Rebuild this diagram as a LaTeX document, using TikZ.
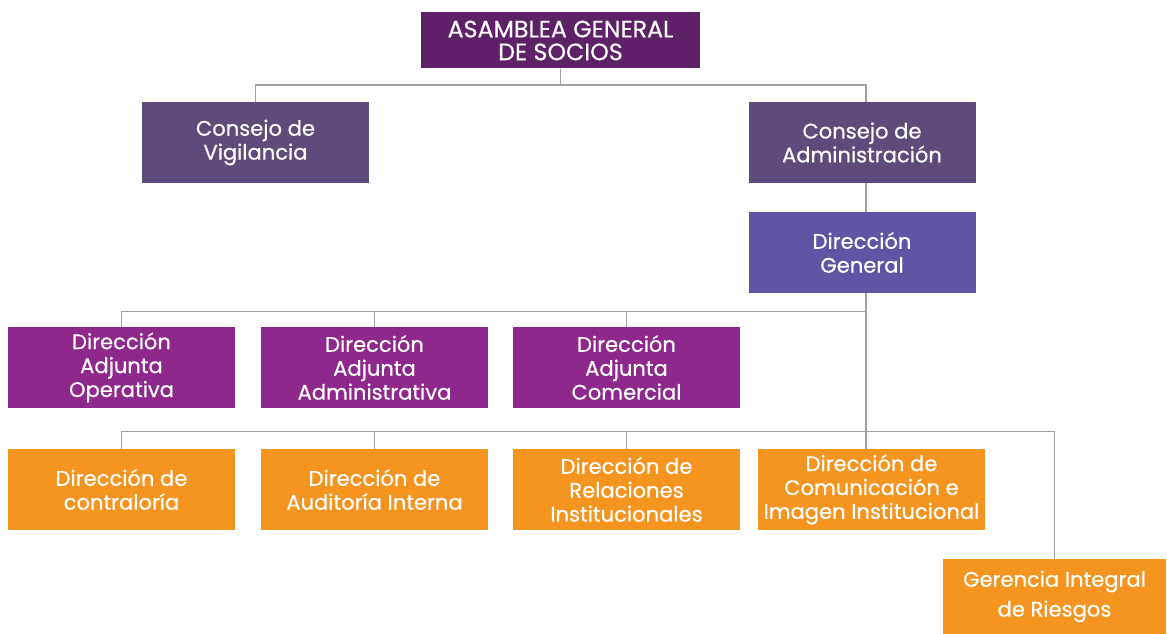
\documentclass[tikz,border=0pt]{standalone}
\usepackage{fontspec}
\setmainfont{Poppins}[FakeBold=0.5]
\definecolor{asamblea}{HTML}{5E2167}
\definecolor{consejo}{HTML}{5F4B7B}
\definecolor{general}{HTML}{5E56A4}
\definecolor{adjunta}{HTML}{8E288D}
\definecolor{naranja}{HTML}{F59520}
\definecolor{linea}{HTML}{A0A0A0}
\usetikzlibrary{calc, positioning}

\tikzset{
  caja/.style={fill=#1, text=white, align=center, inner sep=0pt,
    font=\fontsize{12}{13.6}\selectfont},
  ancha/.style={caja=#1, minimum width=227*0.02cm, minimum height=81*0.02cm},
  rama/.style={draw=linea, line width=0.9pt}
}

\begin{document}
\begin{tikzpicture}[x=0.02cm, y=-0.02cm]
  \useasboundingbox (0,0) rectangle (1167,634);

  % niveles superiores
  \node[caja=asamblea, font=\fontsize{13.5}{13}\selectfont, minimum width=279*0.02cm, minimum height=56*0.02cm] (asamblea) at (560.5,40.5) {ASAMBLEA GENERAL\\DE SOCIOS};
  \node[ancha=consejo] (vigilancia) at (255.5,142.5) {Consejo de\\Vigilancia};
  \node[ancha=consejo] (admin) at (862,142.5) {Consejo de\\Administración};
  \node[ancha=general] (general) at (862,252.5) {Dirección\\General};

  % direcciones adjuntas
  \node[ancha=adjunta] (operativa) at (121.5,367.5) {Dirección\\Adjunta\\Operativa};
  \node[ancha=adjunta] (administrativa) at (374.5,367.5) {Dirección\\Adjunta\\Administrativa};
  \node[ancha=adjunta] (comercial) at (626.5,367.5) {Dirección\\Adjunta\\Comercial};

  % direcciones de apoyo
  \node[ancha=naranja] (contraloria) at (121.5,489.5) {Dirección de\\contraloría};
  \node[ancha=naranja] (auditoria) at (374.5,489.5) {Dirección de\\Auditoría Interna};
  \node[ancha=naranja] (relaciones) at (626.5,489.5) {Dirección de\\Relaciones\\Institucionales};
  \node[ancha=naranja] (comunicacion) at (871.5,489.5) {Dirección de\\Comunicación e\\Imagen Institucional};
  \node[caja=naranja, font=\fontsize{12}{17}\selectfont, minimum width=223*0.02cm, minimum height=75*0.02cm] (riesgos) at (1054.5,596.5) {Gerencia Integral\\de Riesgos};

  % conectores
  \coordinate (tronco) at ($(general.south)+(4,0)$);
  \draw[rama] (asamblea.south) -- ++(0,16) coordinate (bus1);
  \draw[rama] (vigilancia.north) |- (bus1) -| (admin.north -| tronco);
  \draw[rama] (admin.south -| tronco) -- (general.north -| tronco);
  \draw[rama] (tronco) -- ++(0,18) coordinate (bus2) -- ++(0,120) coordinate (bus3);
  \draw[rama] (operativa.north) |- (bus2);
  \draw[rama] (administrativa.north) -- (administrativa.north |- bus2);
  \draw[rama] (comercial.north) -- (comercial.north |- bus2);
  \draw[rama] (contraloria.north) |- (bus3) -| (riesgos.north);
  \draw[rama] (auditoria.north) -- (auditoria.north |- bus3);
  \draw[rama] (relaciones.north) -- (relaciones.north |- bus3);
  \draw[rama] (comunicacion.north -| tronco) -- (bus3);
\end{tikzpicture}
\end{document}
